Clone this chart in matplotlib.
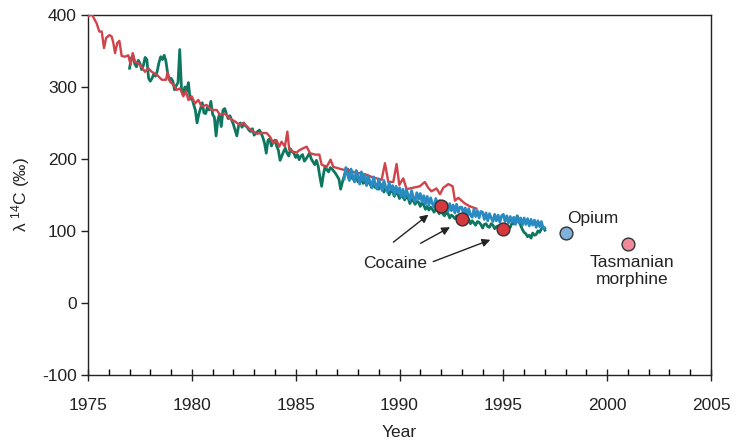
import numpy as np
import matplotlib
matplotlib.use("Agg")
import matplotlib.pyplot as plt

plt.rcParams['font.family'] = ['Liberation Sans', 'DejaVu Sans']
plt.rcParams['mathtext.default'] = 'regular'
plt.rcParams['axes.unicode_minus'] = False

# ---------------- data ----------------
red_years = [1975.00, 1975.18, 1975.42, 1975.54, 1975.66, 1975.77, 1975.87, 1976.03, 1976.14, 1976.22,
             1976.30, 1976.41, 1976.51, 1976.62, 1976.78, 1976.94, 1977.05, 1977.15, 1977.26, 1977.42,
             1977.58, 1977.74, 1977.90, 1978.07, 1978.31, 1978.55, 1978.76, 1978.82, 1978.95, 1979.11,
             1979.27, 1979.43, 1979.59, 1979.72, 1979.83, 1979.99, 1980.15, 1980.31, 1980.47, 1980.71,
             1980.96, 1981.20, 1981.36, 1981.60, 1981.84, 1982.08, 1982.32, 1982.48, 1982.72, 1982.96,
             1983.12, 1983.36, 1983.60, 1983.76, 1983.92, 1984.08, 1984.21, 1984.32, 1984.48, 1984.60,
             1984.69, 1984.88, 1985.05, 1985.17, 1985.37, 1985.53, 1985.69, 1985.93, 1986.14, 1986.25,
             1986.49, 1986.68, 1986.81, 1987.05, 1987.29, 1987.53, 1987.77, 1988.10, 1988.42, 1988.66,
             1988.90, 1989.14, 1989.30, 1989.46, 1989.70, 1989.86, 1989.99, 1990.18, 1990.34, 1990.66,
             1990.98, 1991.22, 1991.38, 1991.54, 1991.78, 1991.95, 1992.11, 1992.35, 1992.56, 1992.67,
             1992.83, 1992.99, 1993.15, 1993.40, 1993.70]
red_values = [398, 401, 388, 377, 377, 354, 368, 372, 370, 361,
              347, 361, 364, 343, 342, 344, 331, 347, 335, 333,
              328, 321, 326, 321, 317, 310, 310, 320, 307, 303,
              296, 298, 287, 294, 282, 287, 277, 282, 273, 275,
              268, 268, 261, 263, 256, 252, 247, 250, 243, 238,
              235, 236, 236, 231, 222, 226, 217, 224, 217, 238,
              213, 210, 209, 212, 215, 217, 208, 206, 206, 192,
              189, 199, 189, 187, 185, 185, 182, 180, 178, 175,
              173, 171, 194, 168, 168, 193, 164, 173, 158, 160,
              162, 168, 160, 155, 159, 151, 160, 165, 162, 142,
              146, 142, 138, 134, 131]

# monthly values starting January 1977
green_start, green_step = 1977.0, 1 / 12
green_values = [
    326, 340, 344, 332, 328, 337, 333, 324, 330, 341, 338, 312,   # 1977
    308, 312, 318, 315, 322, 334, 342, 338, 344, 336, 319, 310,   # 1978
    312, 308, 296, 302, 306, 352, 298, 289, 300, 294, 306, 283,   # 1979
    285, 276, 268, 250, 262, 270, 278, 264, 263, 272, 268, 280,   # 1980
    262, 258, 232, 254, 262, 245, 268, 270, 262, 256, 260, 254,   # 1981
    248, 240, 232, 246, 250, 244, 250, 246, 244, 240, 238, 242,   # 1982
    233, 236, 238, 240, 236, 230, 222, 208, 226, 228, 218, 224,   # 1983
    226, 218, 212, 198, 204, 210, 215, 208, 204, 214, 210, 208,   # 1984
    202, 206, 199, 204, 206, 197, 200, 204, 208, 200, 196, 192,   # 1985
    198, 190, 175, 162, 178, 190, 185, 182, 188, 186, 183, 180,   # 1986
    176, 172, 158, 168, 176, 184, 186, 182, 178, 172, 176, 175,   # 1987
    168, 174, 172, 166, 170, 164, 170, 165, 160, 168, 160, 164,   # 1988
    158, 165, 162, 154, 160, 158, 150, 156, 155, 148, 153, 152,   # 1989
    145, 150, 147, 143, 148, 146, 138, 144, 142, 137, 141, 140,   # 1990
    134, 139, 136, 130, 134, 129, 133, 130, 126, 131, 128, 124,   # 1991
    128, 124, 121, 126, 124, 118, 122, 120, 117, 121, 118, 114,   # 1992
    118, 115, 113, 117, 116, 110, 114, 111, 108, 113, 112, 109,   # 1993
    104, 109, 110, 106, 105, 110, 108, 103, 106, 107, 102, 105,   # 1994
    103, 106, 108, 104, 105, 111, 110, 112, 121, 115, 108, 102,   # 1995
    98, 96, 92, 94, 90, 97, 94, 95, 100, 98, 103, 106,            # 1996
    101]                                                          # 1997

# monthly values starting May 1987
blue_start, blue_step = 1987 + 4 / 12, 1 / 12
blue_values = [
    172, 188, 178, 170, 186, 176, 168, 184,                       # 1987
    176, 165, 182, 170, 178, 163, 176, 168, 160, 175, 165, 158,   # 1988
    172, 163, 156, 170, 161, 154, 167, 157, 163, 150, 162, 153,   # 1989
    160, 148, 158, 146, 157, 150, 143, 156, 146, 141, 153, 144,   # 1990
    152, 140, 149, 137, 148, 136, 146, 138, 133, 145, 135, 142,   # 1991
    131, 141, 130, 139, 127, 138, 128, 136, 125, 137, 126, 133,   # 1992
    133, 123, 132, 120, 131, 122, 119, 130, 120, 128, 118, 127,   # 1993
    126, 116, 125, 114, 124, 118, 113, 123, 114, 122, 112, 121,   # 1994
    123, 113, 121, 111, 120, 112, 119, 109, 120, 111, 118, 108,   # 1995
    118, 109, 117, 107, 116, 108, 115, 105, 114, 106, 113, 103,   # 1996
    104]                                                          # 1997

cocaine_years = [1992.0, 1993.0, 1995.0]
cocaine_values = [135, 117, 103]
opium_year, opium_value = 1998.0, 97
tas_year, tas_value = 2001.0, 82

green_years = green_start + green_step * np.arange(len(green_values))
blue_years = blue_start + blue_step * np.arange(len(blue_values))

# ---------------- plot ----------------
fig = plt.figure(figsize=(7.36, 4.40), dpi=100)
ax = fig.add_axes([0.1196, 0.148, 0.8464, 0.818])

RED = '#d0434a'
GREEN = '#0e7760'
BLUE = '#2a8bc2'

ax.plot(green_years, green_values, color=GREEN, lw=2.0, zorder=2)
ax.plot(red_years, red_values, color=RED, lw=1.7, zorder=3)
ax.plot(blue_years, blue_values, color=BLUE, lw=2.0, zorder=4)

ax.scatter(cocaine_years, cocaine_values, s=85, color='#d6383f', edgecolor='#333333', lw=1.0, zorder=6)
ax.scatter([opium_year], [opium_value], s=85, color='#7fb1da', edgecolor='#333333', lw=1.0, zorder=6)
ax.scatter([tas_year], [tas_value], s=85, color='#f08a9a', edgecolor='#333333', lw=1.0, zorder=6)

FS = 12.5
# annotations
ax.text(1989.8, 55, 'Cocaine', ha='center', va='center', fontsize=FS, color='#222222')
arrow_kw = dict(arrowstyle='-|>', color='#222222', lw=1.0, mutation_scale=12)
ax.annotate('', xy=(1991.5, 125), xytext=(1989.6, 82), arrowprops=arrow_kw)
ax.annotate('', xy=(1992.55, 107), xytext=(1990.9, 81), arrowprops=arrow_kw)
ax.annotate('', xy=(1994.5, 89), xytext=(1991.5, 56), arrowprops=arrow_kw)
ax.text(1998.05, 117, 'Opium', ha='left', va='center', fontsize=FS, color='#222222')
ax.text(2001.2, 44, 'Tasmanian\nmorphine', ha='center', va='center', fontsize=FS,
        color='#222222', linespacing=1.15)

ax.set_xlim(1975, 2005)
ax.set_ylim(-100, 400)
ax.set_xticks(np.arange(1975, 2006, 5))
ax.set_xticks(np.arange(1975, 2006, 1), minor=True)
ax.set_yticks(np.arange(-100, 401, 100))
ax.tick_params(axis='x', which='major', direction='inout', length=9, width=1, pad=12,
               labelsize=FS, colors='#222222')
ax.tick_params(axis='x', which='minor', direction='in', length=4, width=1)
ax.tick_params(axis='y', which='major', direction='out', length=5, width=1, labelsize=FS,
               colors='#222222', pad=3)
for s in ax.spines.values():
    s.set_color('#222222')
    s.set_linewidth(1.0)

ax.set_xlabel('Year', fontsize=FS, color='#222222', labelpad=9)
ax.set_ylabel('λ $^{14}$C (‰)', fontsize=FS, color='#222222', labelpad=7)

fig.savefig('out.png', dpi=100)
